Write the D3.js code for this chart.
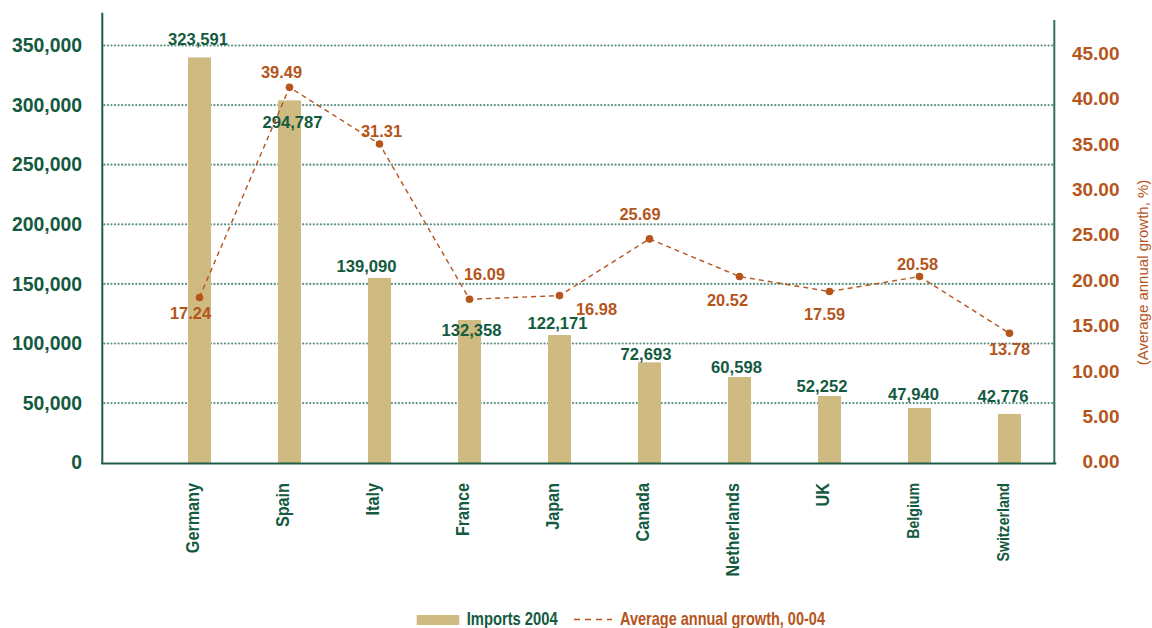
<!DOCTYPE html>
<html>
<head>
<meta charset="utf-8">
<script src="https://cdn.jsdelivr.net/npm/d3@7/dist/d3.min.js"></script>
<style>
  body { margin: 0; background: white; }
  svg { display: block; }
</style>
</head>
<body>
<svg id="chart"></svg>
<script>
// data
var countries = ['Germany','Spain','Italy','France','Japan','Canada','Netherlands','UK','Belgium','Switzerland']
var imports2004 = [340000, 304000, 155000, 119700, 107100, 84200, 71900, 56000, 45900, 40900]
var importLabels = ['323,591','294,787','139,090','132,358','122,171','72,693','60,598','52,252','47,940','42,776']
var growth = [18.1, 41.25, 35.0, 17.9, 18.3, 24.55, 20.4, 18.75, 20.4, 14.15]
var growthLabels = ['17.24','39.49','31.31','16.09','16.98','25.69','20.52','17.59','20.58','13.78']
var leftTicks = [0, 50000, 100000, 150000, 200000, 250000, 300000, 350000]
var rightTicks = [0, 5, 10, 15, 20, 25, 30, 35, 40, 45]

var width = 1152, height = 628
var green = '#135a40', orange = '#b5541b', tan = '#cfbb81', grid = '#5e9282'
var sans = '"Liberation Sans", Arial, sans-serif'

// where the labels sit relative to bar top / dot (layout tweaks, not data)
var importLabelShift = [[-1.5,-12],[3,28],[-13,-6],[2,16],[-2,-6],[-3.5,-2],[-3,-4],[-7.5,-4],[-6,-8],[-6.5,-12]]
var growthLabelShift = [[-9,22],[-8,-9],[2,-7],[15,-19],[37,19],[-9.5,-19],[-12,29],[-5,28],[-2,-7],[0,22]]
var smallCats = ['Belgium','Switzerland']

var svg = d3.select('#chart').attr('width', width).attr('height', height)

var plotLeft = 102.3, plotRight = 1054.3, plotBottom = 463

var x = d3.scaleBand().domain(countries).range([154.5, 1054.5]).paddingInner(0.744).paddingOuter(0.372)
var yL = d3.scaleLinear().domain([0, 350000]).range([462.7, 45.5])
var yR = d3.scaleLinear().domain([0, 45]).range([461.7, 53.3])

var fmt = d3.format(',')

// gridlines
svg.append('g').selectAll('line').data(leftTicks.slice(1))
  .enter().append('line')
  .attr('x1', plotLeft + 2).attr('x2', plotRight)
  .attr('y1', function(d){return yL(d)}).attr('y2', function(d){return yL(d)})
  .attr('stroke', grid).attr('stroke-width', 2.2)
  .attr('stroke-dasharray', '0.1,3.45').attr('stroke-linecap', 'round')

// bars
svg.append('g').selectAll('rect').data(countries)
  .enter().append('rect')
  .attr('x', function(d){return x(d)})
  .attr('width', x.bandwidth())
  .attr('y', function(d,i){return yL(imports2004[i])})
  .attr('height', function(d,i){return plotBottom - yL(imports2004[i])})
  .attr('fill', tan)

// axes lines
svg.append('line').attr('x1', plotLeft).attr('x2', plotLeft).attr('y1', 12.7).attr('y2', plotBottom + 1)
  .attr('stroke', '#1d5c47').attr('stroke-width', 2)
svg.append('line').attr('x1', plotRight).attr('x2', plotRight).attr('y1', 20).attr('y2', plotBottom + 1)
  .attr('stroke', '#2f6f5a').attr('stroke-width', 2)
svg.append('line').attr('x1', plotLeft - 1).attr('x2', plotRight + 2).attr('y1', plotBottom + 0.5).attr('y2', plotBottom + 0.5)
  .attr('stroke', '#1d5c47').attr('stroke-width', 2)

// left tick labels
svg.append('g').selectAll('text').data(leftTicks)
  .enter().append('text')
  .attr('x', 82).attr('y', function(d){return yL(d)})
  .attr('dy', '0.35em')
  .attr('text-anchor', 'end')
  .style('font', 'bold 19.4px ' + sans)
  .attr('fill', green)
  .text(function(d){return fmt(d)})

// right tick labels
svg.append('g').selectAll('text').data(rightTicks)
  .enter().append('text')
  .attr('x', 1119.5).attr('y', function(d){return yR(d)})
  .attr('dy', '0.35em')
  .attr('text-anchor', 'end')
  .style('font', 'bold 19px ' + sans)
  .attr('fill', orange)
  .text(function(d){return d.toFixed(2)})

// right axis title
svg.append('text')
  .attr('transform', 'translate(1148,272.5) rotate(-90)')
  .attr('text-anchor', 'middle')
  .style('font', '15px ' + sans)
  .attr('fill', orange)
  .text('(Average annual growth, %)')

// category labels (condensed look: squeeze along the text)
svg.append('g').selectAll('text').data(countries)
  .enter().append('text')
  .attr('transform', function(d){
    var cx = x(d) + x.bandwidth()/2 - 0.5
    return 'translate(' + cx + ',483) rotate(-90) scale(0.9,1)'
  })
  .attr('text-anchor', 'end')
  .style('font-family', sans)
  .style('font-weight', 'bold')
  .style('font-size', function(d){return smallCats.indexOf(d) >= 0 ? '15.7px' : '18px'})
  .attr('fill', green)
  .text(function(d){return d})

// import value labels
svg.append('g').selectAll('text').data(countries)
  .enter().append('text')
  .attr('x', function(d,i){return x(d) + x.bandwidth()/2 + importLabelShift[i][0]})
  .attr('y', function(d,i){return yL(imports2004[i]) + importLabelShift[i][1]})
  .attr('text-anchor', 'middle')
  .style('font', 'bold 16.6px ' + sans)
  .attr('fill', green)
  .text(function(d,i){return importLabels[i]})

// growth line
var line = d3.line()
  .x(function(d,i){return x(countries[i]) + x.bandwidth()/2})
  .y(function(d){return yR(d)})

svg.append('path').datum(growth)
  .attr('d', line)
  .attr('fill', 'none')
  .attr('stroke', orange)
  .attr('stroke-width', 1.4)
  .attr('stroke-dasharray', '5,4')

svg.append('g').selectAll('circle').data(growth)
  .enter().append('circle')
  .attr('cx', function(d,i){return x(countries[i]) + x.bandwidth()/2})
  .attr('cy', function(d){return yR(d)})
  .attr('r', 3.8)
  .attr('fill', orange)

svg.append('g').selectAll('text').data(growth)
  .enter().append('text')
  .attr('x', function(d,i){return x(countries[i]) + x.bandwidth()/2 + growthLabelShift[i][0]})
  .attr('y', function(d,i){return yR(d) + growthLabelShift[i][1]})
  .attr('text-anchor', 'middle')
  .style('font', 'bold 16.4px ' + sans)
  .attr('fill', orange)
  .text(function(d,i){return growthLabels[i]})

// legend
var legend = svg.append('g')
legend.append('rect').attr('x', 416.7).attr('y', 615).attr('width', 42.6).attr('height', 10).attr('fill', tan)
legend.append('text').attr('transform', 'translate(466.7,624.5) scale(0.82,1)')
  .style('font', 'bold 18px ' + sans)
  .attr('fill', green).text('Imports 2004')
legend.append('line').attr('x1', 574).attr('x2', 612).attr('y1', 619.5).attr('y2', 619.5)
  .attr('stroke', orange).attr('stroke-width', 1.4).attr('stroke-dasharray', '6,5')
legend.append('text').attr('transform', 'translate(620,624.5) scale(0.82,1)')
  .style('font', 'bold 17.7px ' + sans)
  .attr('fill', orange).text('Average annual growth, 00-04')
</script>
</body>
</html>
